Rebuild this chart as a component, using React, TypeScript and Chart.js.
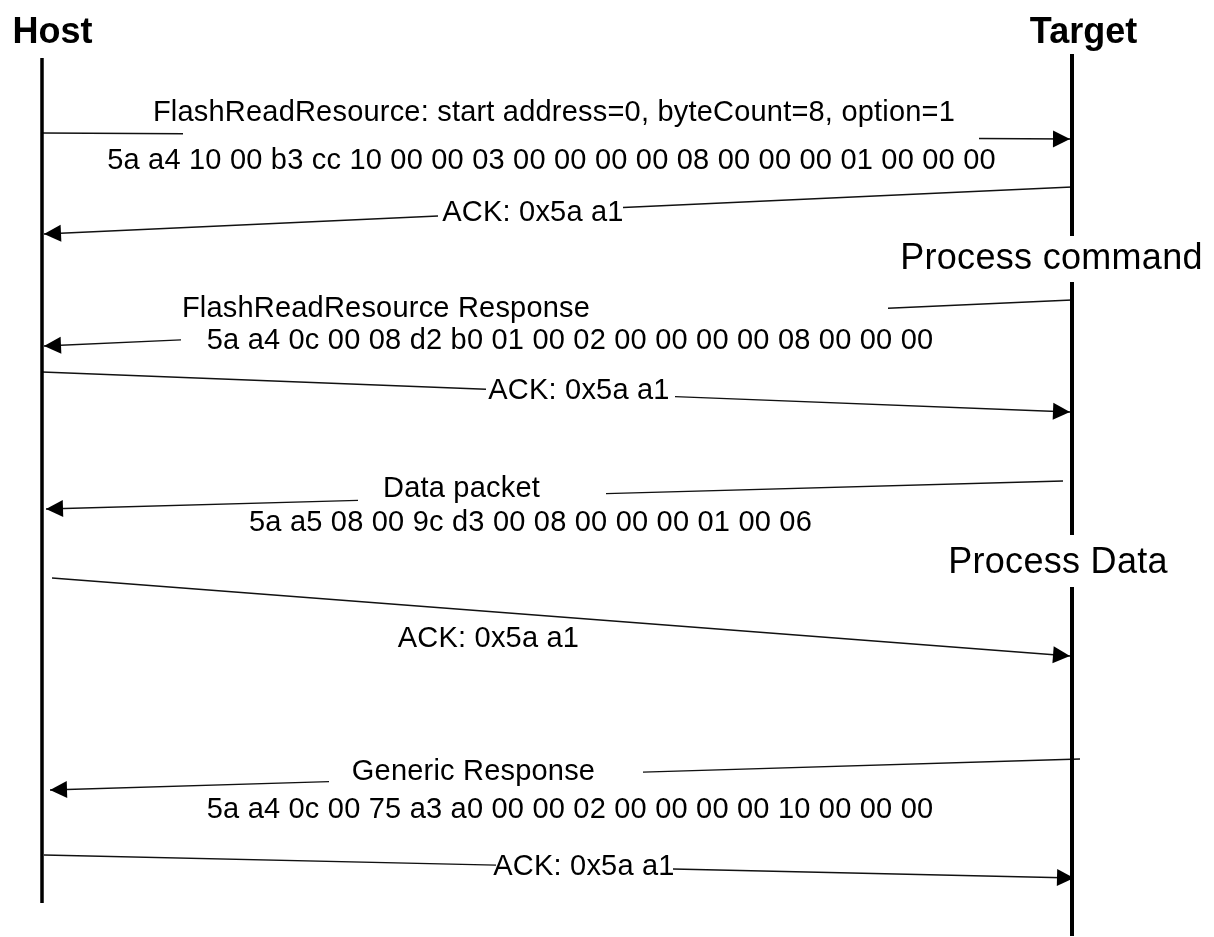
import React, { useEffect, useRef } from "react";
import { Chart, registerables } from "chart.js";

Chart.register(...registerables);

const W = 1214;
const H = 937;

// ---- data ----
const participants = ["Host", "Target"];
const lifelineX = [42, 1072];
const lifelineSpans: number[][][] = [
  [[58, 903]],
  [[54, 236], [282, 535], [587, 936]],
];

const activityLabels = ["Process command", "Process Data"];

const messageTitles = [
  "FlashReadResource: start address=0, byteCount=8, option=1",
  "ACK: 0x5a a1",
  "FlashReadResource Response",
  "ACK: 0x5a a1",
  "Data packet",
  "ACK: 0x5a a1",
  "Generic Response",
  "ACK: 0x5a a1",
];
const messagePayloads = [
  "5a a4 10 00 b3 cc 10 00 00 03 00 00 00 00 08 00 00 00 01 00 00 00",
  "",
  "5a a4 0c 00 08 d2 b0 01 00 02 00 00 00 00 08 00 00 00",
  "",
  "5a a5 08 00 9c d3 00 08 00 00 00 01 00 06",
  "",
  "5a a4 0c 00 75 a3 a0 00 00 02 00 00 00 00 10 00 00 00",
  "",
];
const messageFrom = [0, 1, 1, 0, 1, 0, 1, 0];
const sendY = [133, 187, 300, 372, 481, 578, 759, 855];
const recvY = [139, 234, 346, 412, 509, 656, 790, 878];

// ---- layout (axis units) ----
const participantLabelPos = [[52.5, 43], [1083.5, 43]];
const activityPos = [[1051.5, 269], [1058, 573]];
const sendX = [42, 1072, 1072, 42, 1063, 52, 1080, 44];
const recvX = [1070, 44, 44, 1070, 46, 1070, 50, 1074];
const lineGaps: (number[] | null)[] = [
  [183, 979], [438, 623], [181, 888], [486, 675], [358, 606], null, [329, 643], [496, 673],
];
const titlePos = [
  [554, 121], [533, 221], [386, 317], [579, 399], [461.5, 497], [488.5, 647], [473.5, 780], [584, 875],
];
const payloadPos: (number[] | null)[] = [
  [551.5, 169], null, [570, 349], null, [530.5, 531], null, [570, 818], null,
];

const FONT = '"Liberation Sans", Arial, Helvetica, sans-serif';

function yAt(i: number, x: number) {
  const x0 = sendX[i], x1 = recvX[i];
  const t = (x - x0) / (x1 - x0);
  return sendY[i] + t * (recvY[i] - sendY[i]);
}

function buildMessagePoints(i: number) {
  const pts: { x: number; y: number | null }[] = [{ x: sendX[i], y: sendY[i] }];
  const g = lineGaps[i];
  if (g) {
    const [ga, gb] = sendX[i] < recvX[i] ? [g[0], g[1]] : [g[1], g[0]];
    pts.push({ x: ga, y: yAt(i, ga) });
    pts.push({ x: (ga + gb) / 2, y: null });
    pts.push({ x: gb, y: yAt(i, gb) });
  }
  pts.push({ x: recvX[i], y: recvY[i] });
  return pts;
}

function buildLifelinePoints(p: number) {
  const pts: { x: number; y: number | null }[] = [];
  lifelineSpans[p].forEach((s, k) => {
    if (k > 0) pts.push({ x: lifelineX[p], y: null });
    pts.push({ x: lifelineX[p], y: s[0] });
    pts.push({ x: lifelineX[p], y: s[1] });
  });
  return pts;
}

const diagramPlugin = {
  id: "sequenceDiagram",
  afterDatasetsDraw(chart: any) {
    const ctx: CanvasRenderingContext2D = chart.ctx;
    const xs = chart.scales.x;
    const ys = chart.scales.y;
    const px = (v: number) => xs.getPixelForValue(v);
    const py = (v: number) => ys.getPixelForValue(v);
    ctx.save();
    ctx.fillStyle = "#000";

    // arrowheads
    messageTitles.forEach((_, i) => {
      const tx = px(recvX[i]), ty = py(recvY[i]);
      const sx = px(sendX[i]), sy = py(sendY[i]);
      const ang = Math.atan2(ty - sy, tx - sx);
      const len = 17, half = 8.5;
      const bx = tx - len * Math.cos(ang), by = ty - len * Math.sin(ang);
      ctx.beginPath();
      ctx.moveTo(tx, ty);
      ctx.lineTo(bx + half * Math.sin(ang), by - half * Math.cos(ang));
      ctx.lineTo(bx - half * Math.sin(ang), by + half * Math.cos(ang));
      ctx.closePath();
      ctx.fill();
    });

    // participant names
    ctx.textAlign = "center";
    ctx.textBaseline = "alphabetic";
    (ctx as any).letterSpacing = "0px";
    ctx.font = `bold 36px ${FONT}`;
    participants.forEach((name, p) => {
      ctx.fillText(name, px(participantLabelPos[p][0]), py(participantLabelPos[p][1]));
    });

    // activity labels
    ctx.font = `36px ${FONT}`;
    (ctx as any).letterSpacing = "0.3px";
    activityLabels.forEach((lab, k) => {
      ctx.fillText(lab, px(activityPos[k][0]), py(activityPos[k][1]));
    });

    // message labels
    ctx.font = `29px ${FONT}`;
    (ctx as any).letterSpacing = "0.2px";
    messageTitles.forEach((t, i) => {
      ctx.fillText(t, px(titlePos[i][0]), py(titlePos[i][1]));
      const pp = payloadPos[i];
      if (pp && messagePayloads[i]) {
        ctx.fillText(messagePayloads[i], px(pp[0]), py(pp[1]));
      }
    });
    ctx.restore();
  },
};

export default function App() {
  const ref = useRef<HTMLCanvasElement | null>(null);

  useEffect(() => {
    if (!ref.current) return;
    const datasets: any[] = [];
    participants.forEach((name, p) => {
      datasets.push({
        label: name + " lifeline",
        data: buildLifelinePoints(p),
        showLine: true,
        borderColor: "#000",
        borderWidth: p === 0 ? 3.5 : 4,
        pointRadius: 0,
        spanGaps: false,
        borderCapStyle: "butt",
      });
    });
    messageTitles.forEach((t, i) => {
      datasets.push({
        label: t,
        data: buildMessagePoints(i),
        showLine: true,
        borderColor: "#111",
        borderWidth: 1.4,
        pointRadius: 0,
        spanGaps: false,
      });
    });

    const chart = new Chart(ref.current, {
      type: "scatter",
      data: { datasets },
      options: {
        animation: false,
        responsive: false,
        events: [],
        layout: { padding: 0 },
        scales: {
          x: { type: "linear", min: 0, max: W, display: false },
          y: { type: "linear", min: 0, max: H, reverse: true, display: false },
        },
        plugins: {
          legend: { display: false },
          tooltip: { enabled: false },
          title: { display: false },
        },
      },
      plugins: [diagramPlugin],
    } as any);
    return () => chart.destroy();
  }, []);

  return (
    <div style={{ position: "fixed", left: 0, top: 0, width: W, height: H, background: "#fff" }}>
      <canvas ref={ref} width={W} height={H} style={{ display: "block" }} />
    </div>
  );
}
